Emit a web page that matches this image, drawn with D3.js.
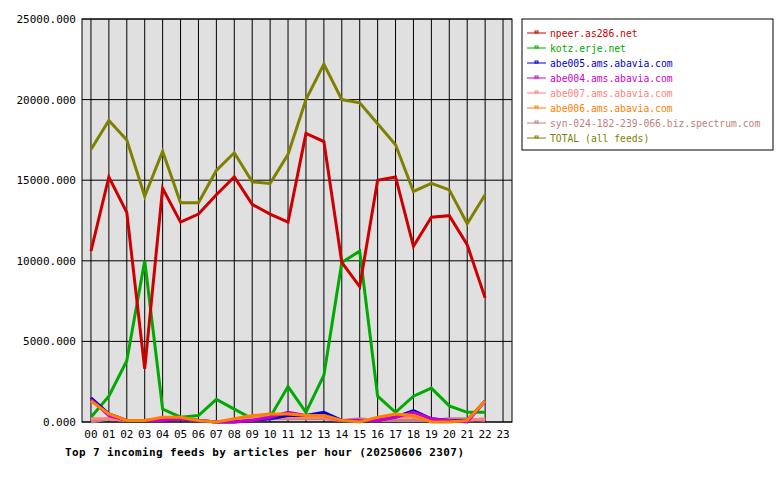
<!DOCTYPE html><html><head><script src="https://cdn.jsdelivr.net/npm/d3@7"></script>
<style>body{margin:0;background:#fff}text{font-family:"DejaVu Sans Mono",monospace;font-size:11px}</style></head><body>
<svg id="c" width="780" height="480"></svg>
<script>
const hours=d3.range(24).map(i=>String(i).padStart(2,"0"));
const yTicks=[0,5000,10000,15000,20000,25000];
const names=["npeer.as286.net","kotz.erje.net","abe005.ams.abavia.com","abe004.ams.abavia.com","abe007.ams.abavia.com","abe006.ams.abavia.com","syn-024-182-239-066.biz.spectrum.com","TOTAL (all feeds)"];
const colors=["#cc0000","#00aa00","#0000cc","#cc00cc","#ff8080","#ff8000","#c08080","#808000"];
const npeer=[10600,15200,13000,3300,14500,12400,12900,14100,15200,13500,12900,12400,17900,17400,9900,8400,15000,15200,10900,12700,12800,11000,7700];
const kotz=[300,1600,3800,10000,800,300,400,1400,800,200,300,2200,600,2900,9900,10600,1600,600,1600,2100,1000,600,600];
const abe005=[1500,500,100,100,100,200,100,0,0,100,200,400,400,600,100,100,100,300,700,200,100,100,1300];
const abe004=[1400,400,100,100,100,200,100,0,0,100,300,600,400,400,100,100,100,300,600,200,100,0,1300];
const abe007=[200,200,100,100,200,200,100,0,100,200,300,300,300,300,100,100,200,300,300,100,100,100,200];
const abe006=[1300,500,100,100,300,300,100,0,200,400,500,500,400,400,100,0,300,500,400,0,0,100,1300];
const syn=[0,200,100,100,200,200,100,0,100,100,200,200,200,200,100,200,100,100,100,100,200,200,100];
const total=[16900,18700,17500,14000,16800,13600,13600,15600,16700,14900,14800,16600,20000,22200,20000,19800,18500,17200,14300,14800,14400,12300,14100];
const series=[npeer,kotz,abe005,abe004,abe007,abe006,syn,total];
const svg=d3.select("#c");
const L=82,R=512,T=19,B=422;
const x=d3.scalePoint().domain(hours).range([L,R]).padding(0.5);
const y=d3.scaleLinear().domain([0,25000]).range([B,T]);
svg.append("rect").attr("x",L).attr("y",T).attr("width",R-L).attr("height",B-T).attr("fill","#e0e0e0");
hours.forEach(h=>svg.append("line").attr("x1",x(h)).attr("x2",x(h)).attr("y1",T).attr("y2",B).attr("stroke","#000"));
yTicks.forEach(t=>{svg.append("line").attr("x1",L).attr("x2",R).attr("y1",y(t)).attr("y2",y(t)).attr("stroke","#000");
 svg.append("text").attr("x",L-6).attr("y",y(t)+4).attr("text-anchor","end").text(t.toFixed(3));});
svg.append("rect").attr("x",L).attr("y",T).attr("width",R-L).attr("height",B-T).attr("fill","none").attr("stroke","#000");
hours.forEach(h=>svg.append("text").attr("x",x(h)).attr("y",438).attr("text-anchor","middle").text(h));
svg.append("text").attr("x",65).attr("y",456).attr("font-weight","bold").attr("textLength",399).attr("lengthAdjust","spacing").text("Top 7 incoming feeds by articles per hour (20250606 2307)");
const line=d3.line().x((d,i)=>x(hours[i])).y(d=>y(d));
[1,0,7,6,4,2,3,5].forEach(k=>svg.append("path").attr("d",line(series[k])).attr("fill","none").attr("stroke",colors[k]).attr("stroke-width",3));
svg.append("rect").attr("x",522).attr("y",19).attr("width",251).attr("height",131).attr("fill","#fff").attr("stroke","#000");
names.forEach((n,i)=>{const yy=33+i*15;
 svg.append("line").attr("x1",527).attr("x2",546).attr("y1",yy).attr("y2",yy).attr("stroke",colors[i]);
 svg.append("rect").attr("x",535).attr("y",yy-2).attr("width",3).attr("height",2).attr("fill","none").attr("stroke",colors[i]);
 svg.append("text").attr("x",550).attr("y",yy+4).attr("fill",colors[i]).attr("font-size","10px").attr("textLength",n.length*5.84).attr("lengthAdjust","spacingAndGlyphs").text(n);});
</script></body></html>
